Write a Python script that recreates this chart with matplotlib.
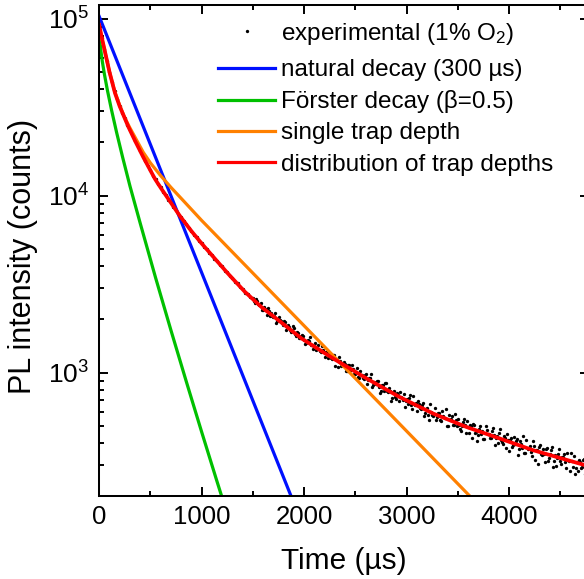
import numpy as np
import matplotlib
matplotlib.use("Agg")
import matplotlib.pyplot as plt
from matplotlib.ticker import LogLocator, MultipleLocator, NullFormatter
from matplotlib.lines import Line2D

plt.rcParams['font.family'] = ['Liberation Sans', 'DejaVu Sans']
plt.rcParams['mathtext.fontset'] = 'custom'
plt.rcParams['mathtext.rm'] = 'Liberation Sans'
plt.rcParams['mathtext.it'] = 'Liberation Sans:italic'
plt.rcParams['mathtext.bf'] = 'Liberation Sans:bold'

# ---------------- data ----------------
# experimental counts, early part (every 25 us from 0 to 1475 us)
exp_t_early = np.arange(0, 1500, 25)
exp_I_early = [92300, 78300, 67800, 58000, 50300, 43900, 38950, 35000, 32100, 29450,
               27420, 25150, 23560, 21800, 20500, 19020, 17960, 16660, 15790, 14680,
               13950, 12960, 12360, 11590, 11160, 10500, 10130, 9510, 9180, 8620,
               8320, 7820, 7560, 7150, 6920, 6560, 6350, 6020, 5860, 5550,
               5410, 5130, 5010, 4750, 4650, 4390, 4300, 4070, 3990, 3770,
               3700, 3500, 3440, 3260, 3200, 3040, 2980, 2830, 2790, 2660]
# experimental counts, late part (every 20 us from 1500 to 4740 us)
exp_t_late_a = np.arange(1500, 4741, 20)
exp_I_late_a = [2641, 2484, 2552, 2419, 2475, 2271, 2277, 2129, 2243, 2169,
                2062, 2161, 1953, 1982, 1920, 1952, 1745, 1850, 1747, 1753,
                1796, 1607, 1669, 1569, 1630, 1540, 1462, 1535, 1583, 1425,
                1418, 1345, 1433, 1315, 1349, 1221, 1315, 1267, 1212, 1263,
                1095, 1186, 1222, 1096, 1111, 1124, 1019, 1106, 1034, 1049,
                989, 1068, 934, 973, 919, 989, 904, 936, 833, 890,
                858, 895, 766, 849, 790, 871, 781, 783, 724, 788,
                712, 752, 779, 700, 644, 707, 723, 653, 741, 659,
                610, 664, 627, 671, 591, 635, 538, 603, 571, 633,
                563, 595, 531, 570, 625, 501, 540, 570, 509, 537,
                544, 480, 501, 550, 455, 495, 505, 427, 507, 461,
                445, 503, 470, 421, 472, 450, 428, 489, 392, 439,
                457, 415, 394, 430, 451, 361, 425, 388, 396, 424,
                372, 396, 437, 353, 370, 386, 337, 387, 367, 304,
                388, 341, 348, 370, 316, 348, 380, 317, 298, 345,
                318, 335, 348, 290, 319, 350, 292, 267, 314, 323,
                288, 322, 267]
# experimental counts, late part (every 20 us from 1510 to 4730 us)
exp_t_late_b = np.arange(1510, 4731, 20)
exp_I_late_b = [2545, 2605, 2455, 2437, 2251, 2344, 2249, 2309, 2096, 2090,
                2101, 1920, 2052, 1962, 1862, 1944, 1806, 1801, 1695, 1838,
                1663, 1699, 1580, 1617, 1619, 1447, 1519, 1517, 1443, 1365,
                1478, 1382, 1318, 1424, 1301, 1309, 1213, 1283, 1192, 1260,
                1192, 1075, 1167, 1120, 1146, 1028, 1103, 1038, 1105, 989,
                1012, 950, 1022, 938, 975, 863, 928, 977, 853, 872,
                898, 825, 785, 847, 872, 787, 820, 692, 780, 727,
                770, 691, 731, 762, 689, 667, 745, 624, 669, 676,
                689, 634, 657, 567, 627, 574, 669, 578, 586, 540,
                592, 540, 607, 552, 500, 574, 548, 504, 582, 503,
                509, 466, 528, 506, 531, 458, 498, 514, 456, 411,
                482, 452, 422, 502, 449, 425, 471, 445, 428, 401,
                478, 406, 437, 376, 414, 415, 378, 434, 412, 343,
                411, 377, 351, 415, 376, 358, 413, 323, 368, 378,
                349, 369, 314, 375, 328, 364, 295, 343, 331, 372,
                304, 336, 313, 351, 278, 317, 337, 290, 280, 313,
                294, 327]

# natural decay (300 us), straight on log axis
nat_t = [0, 1900]
nat_I = [103000, 183]

# Foerster decay (beta = 0.5), log10 of counts
for_t = [0, 5, 15, 30, 50, 80, 120, 170, 230, 300, 400, 550, 700, 850, 1000, 1150, 1250]
for_logI = [4.949, 4.882, 4.825, 4.760, 4.689, 4.596, 4.485, 4.357, 4.214, 4.055,
            3.845, 3.537, 3.240, 2.950, 2.665, 2.385, 2.201]

# single trap depth, log10 of counts
sgl_t = [0, 25, 50, 100, 150, 200, 250, 300, 350, 430, 500, 600, 700, 800, 1000, 2000, 3000, 3650]
sgl_logI = [4.955, 4.89, 4.828, 4.70, 4.592, 4.51, 4.44, 4.383, 4.33, 4.245, 4.185,
            4.113, 4.047, 3.985, 3.860, 3.265, 2.670, 2.283]

# distribution of trap depths, log10 of counts
dst_t = [0, 25, 50, 100, 154, 200, 284, 350, 430, 544, 600, 680, 788, 900, 1000, 1146,
         1260, 1420, 1585, 1748, 1976, 2284, 2610, 2930, 3260, 3585, 3910, 4235, 4690, 4780]
dst_logI = [4.965, 4.895, 4.830, 4.70, 4.58, 4.505, 4.39, 4.31, 4.218, 4.095, 4.045,
            3.977, 3.885, 3.80, 3.73, 3.633, 3.558, 3.458, 3.370, 3.297, 3.193, 3.080,
            2.967, 2.863, 2.769, 2.693, 2.628, 2.562, 2.486, 2.471]

labels = ["experimental (1% O$_2$)", "natural decay (300 µs)",
          "Förster decay (β=0.5)", "single trap depth", "distribution of trap depths"]
colors = ['black', '#0010ff', '#00c000', '#ff8000', '#ff0000']

# ---------------- figure ----------------
W, H = 584, 579
fig = plt.figure(figsize=(W / 100, H / 100), dpi=100)
x0, x1 = 99.2, 589.0
ytop, ybot = 4.7, 496.4
ax = fig.add_axes([x0 / W, 1 - ybot / H, (x1 - x0) / W, (ybot - ytop) / H])

exp_t = np.concatenate([exp_t_early, exp_t_late_a, exp_t_late_b])
exp_I = np.array(exp_I_early + exp_I_late_a + exp_I_late_b, dtype=float)
ax.plot(exp_t, exp_I, ls='none', marker='o', ms=2.4, mew=0, color=colors[0])
ax.plot(nat_t, nat_I, color=colors[1], lw=2.3)
ax.plot(for_t, 10 ** np.array(for_logI), color=colors[2], lw=2.3)
ax.plot(sgl_t, 10 ** np.array(sgl_logI), color=colors[3], lw=2.3)
ax.plot(dst_t, 10 ** np.array(dst_logI), color=colors[4], lw=2.7)

ax.set_yscale('log')
ax.set_xlim(0, 4780)
ax.set_ylim(200, 1.2e5)

ax.xaxis.set_major_locator(MultipleLocator(1000))
ax.xaxis.set_minor_locator(MultipleLocator(500))
ax.yaxis.set_major_locator(LogLocator(base=10, numticks=10))
ax.yaxis.set_minor_locator(LogLocator(base=10, subs=np.arange(2, 10), numticks=20))
ax.yaxis.set_minor_formatter(NullFormatter())

ax.tick_params(which='both', direction='in', top=True, right=True, width=1.4, colors='black')
ax.tick_params(which='major', length=6.2)
ax.tick_params(which='minor', length=3.6)
ax.tick_params(axis='y', which='major', labelsize=19, pad=7)
ax.tick_params(axis='x', which='major', labelsize=18.5, pad=6)
for s in ax.spines.values():
    s.set_linewidth(1.45)

ax.set_xlabel("Time (µs)", fontsize=21.5, labelpad=13)
ax.set_ylabel("PL intensity (counts)", fontsize=22, va='center')
ax.yaxis.set_label_coords((23 - x0) / (x1 - x0), (ybot - 256) / (ybot - ytop))

# legend: experimental row separately, then the four model curves
h_exp = [Line2D([], [], ls='none', marker='o', ms=2.4, mew=0, color=colors[0])]
leg1 = ax.legend(h_exp, labels[:1], loc='center left',
                 bbox_to_anchor=(218 / W, 1 - 34 / H), bbox_transform=fig.transFigure,
                 frameon=False, fontsize=17.5, borderpad=0, borderaxespad=0,
                 handlelength=2.35, handletextpad=0.25)
ax.add_artist(leg1)
h_lines = [Line2D([], [], color=c, lw=2.3) for c in colors[1:]]
ax.legend(h_lines, labels[1:], loc='upper left',
          bbox_to_anchor=(218 / W, 1 - 59 / H), bbox_transform=fig.transFigure,
          frameon=False, fontsize=17.5, borderpad=0, borderaxespad=0,
          handlelength=2.35, handletextpad=0.25, labelspacing=0.38)

fig.savefig("out.png", dpi=100)
